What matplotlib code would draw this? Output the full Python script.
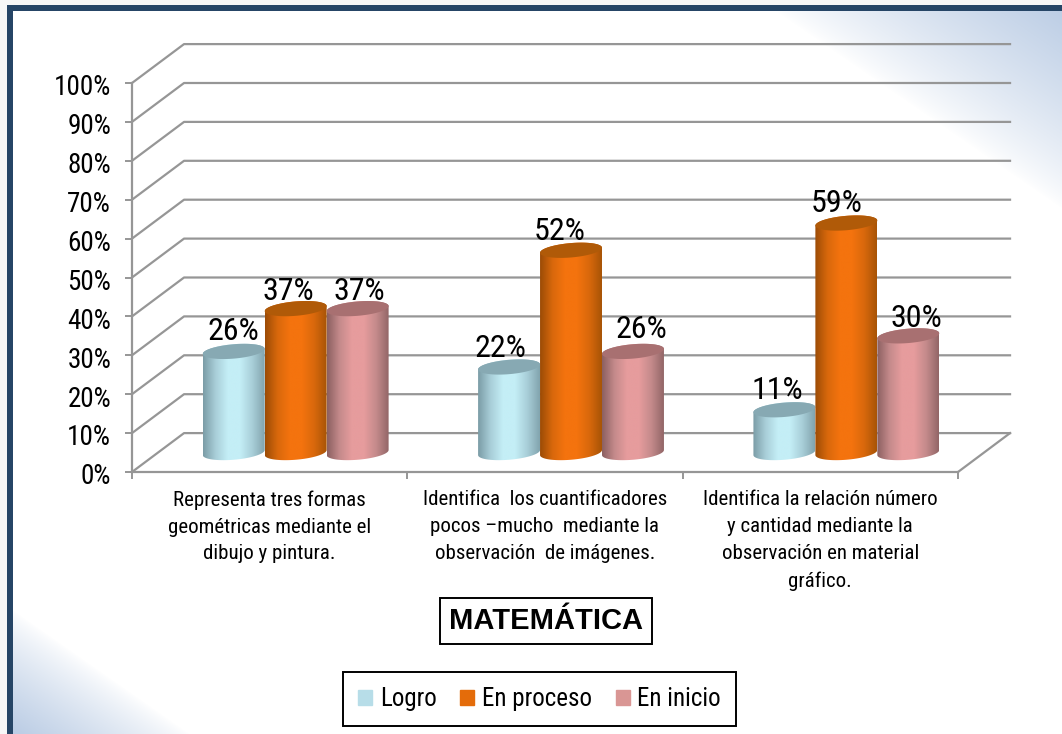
# -*- coding: utf-8 -*-
import numpy as np
import matplotlib
matplotlib.use("Agg")
import matplotlib.pyplot as plt
from matplotlib.colors import LinearSegmentedColormap
from matplotlib.patches import Patch, PathPatch, Rectangle
from matplotlib.path import Path
from matplotlib.transforms import ScaledTranslation

plt.rcParams["font.family"] = ["Roboto Condensed", "Liberation Sans"]

categories = [
    "Representa tres formas\ngeométricas mediante el\ndibujo y pintura.",
    "Identifica  los cuantificadores\npocos –mucho  mediante la\nobservación  de imágenes.",
    "Identifica la relación número\ny cantidad mediante la\nobservación en material\ngráfico.",
]
series = ["Logro", "En proceso", "En inicio"]
logro = [26, 22, 11]
en_proceso = [37, 52, 59]
en_inicio = [37, 26, 30]

legend_colors = ["#b7dde8", "#e46c0a", "#d99694"]
side_colors = [
    ["#7b9ca6", "#a8ced8", "#c4eef6", "#c4eef6", "#a8ced8", "#82a4ae"],
    ["#9c4c06", "#d8680c", "#f4730e", "#f4730e", "#d8680c", "#a85406"],
    ["#8c6061", "#c48a8b", "#e69c9d", "#e69c9d", "#c48a8b", "#926667"],
]
top_colors = ["#87a9b3", "#b05a08", "#a87071"]
grid_color = "#969696"

# label offsets from the bar top, in points
label_dx = [[0, -5, 1], [-6, -8, 6], [-5, -7, 6]]
label_dy = [[4, 2, 2], [3, 3, 5.5], [3.5, 3.5, 2]]

depth_x = 0.189
depth_y = 10.0
bar_w = 0.225


def background(fig):
    bg = fig.add_axes([0, 0, 1, 1], zorder=-5)
    h, w = 734, 1062
    yy, xx = np.mgrid[0:h, 0:w]
    top_right = np.clip(((xx - 760) - yy * 1.45) / 302, 0, 1)
    bottom_left = np.clip((yy - 610) / 124 - (xx - 13) / 177, 0, 1)
    a = np.maximum(top_right, bottom_left) ** 0.8
    tint = np.array([0.73, 0.80, 0.895])
    rgb = 1 - a[..., None] * (1 - tint)
    rgb[yy < 5] = 0.97
    rgb[xx < 7] = 0.97
    bg.imshow(rgb, aspect="auto", extent=(0, w, h, 0))
    bg.add_patch(Rectangle((7, 5), w - 7, 6, color="#264566", lw=0))
    bg.add_patch(Rectangle((7, 5), 6, h - 5, color="#264566", lw=0))
    bg.set_xlim(0, w)
    bg.set_ylim(h, 0)
    bg.axis("off")


def cylinder(ax, x0, value, idx, z):
    t = np.linspace(0, 2 * np.pi, 100)
    a = bar_w / 2
    b, k = 1.85, 0.65
    ex = a * np.cos(t)
    ey = b * np.sin(t) + k * np.cos(t)
    base_y = depth_y / 2
    # side shape: lower half of base ellipse + upper rim
    low = np.linspace(np.pi, 2 * np.pi, 50)
    up = np.linspace(0, np.pi, 50)
    sx = np.r_[x0 + a * np.cos(low), x0 + a * np.cos(up)]
    sy = np.r_[base_y + b * np.sin(low) + k * np.cos(low),
               base_y + value + b * np.sin(up) + k * np.cos(up)]
    shape = PathPatch(Path(np.c_[sx, sy]), transform=ax.transData, fc="none", ec="none")
    ax.add_patch(shape)
    cmap = LinearSegmentedColormap.from_list("c", side_colors[idx])
    grad = np.linspace(0, 1, 128)[None, :]
    im = ax.imshow(grad, cmap=cmap, aspect="auto", zorder=z, interpolation="bilinear",
                   extent=(x0 - a, x0 + a, base_y - 5, base_y + value + 5))
    im.set_clip_path(shape)
    ax.fill(x0 + ex, base_y + value + ey, color=top_colors[idx], lw=0, zorder=z + 0.1,
            clip_on=False)


fig = plt.figure(figsize=(10.62, 7.34), dpi=100)
background(fig)

ax = fig.add_axes([132 / 1062, (734 - 472) / 734, 826 / 1062, 389 / 734])
ax.patch.set_alpha(0)
for name in ["top", "right"]:
    ax.spines[name].set_visible(False)
for name in ["left", "bottom"]:
    ax.spines[name].set_color(grid_color)
    ax.spines[name].set_linewidth(1.6)

# walls and grid lines
for y in range(0, 101, 10):
    ax.plot([0, depth_x, 3 + depth_x], [y, y + depth_y, y + depth_y],
            color=grid_color, lw=1.6, clip_on=False, zorder=1)
ax.plot([3, 3 + depth_x], [0, depth_y], color=grid_color, lw=1.6, clip_on=False, zorder=1)

values = [logro, en_proceso, en_inicio]
for i in range(3):
    for j in range(3):
        xc = j + 0.5 + (i - 1) * bar_w + depth_x / 2
        cylinder(ax, xc, values[i][j], i, 3 + i + j * 3)
        ax.annotate("%d%%" % values[i][j], (xc, values[i][j] + depth_y / 2),
                    xytext=(label_dx[j][i], label_dy[j][i]), textcoords="offset points",
                    ha="center", va="bottom", fontsize=23, color="black", zorder=20,
                    annotation_clip=False)

ax.set_xlim(0, 3)
ax.set_ylim(0, 100)
ax.set_yticks(range(0, 101, 10))
ax.set_yticklabels(["%d%%" % v for v in range(0, 101, 10)], fontsize=19.5, va="center")
ax.set_xticks([0, 1, 2, 3])
ax.set_xticklabels([])
ax.set_xticks([0.5, 1.5, 2.5], minor=True)
ax.set_xticklabels(categories, minor=True, fontsize=15, linespacing=1.53, va="top")
ax.tick_params(axis="y", length=5, width=1.4, color=grid_color, pad=10)
ax.tick_params(axis="x", which="major", length=5, width=1.4, color=grid_color)
ax.tick_params(axis="x", which="minor", length=0, pad=13)
shift = ScaledTranslation(0, -3.5 / 72, fig.dpi_scale_trans)
for lab in ax.get_yticklabels():
    lab.set_transform(lab.get_transform() + shift)

fig.text(546 / 1062, 1 - 621 / 734, "MATEMÁTICA", family="Liberation Sans", fontweight="bold",
         fontsize=21, ha="center", va="center",
         bbox=dict(boxstyle="square,pad=0.3", fc="white", ec="black", lw=1.4))

handles = [Patch(color=c, label=s) for c, s in zip(legend_colors, series)]
leg = fig.legend(handles=handles, ncol=3, loc="center", bbox_to_anchor=(539.5 / 1062, 1 - 699 / 734),
                 fontsize=18, frameon=True, fancybox=False, edgecolor="black", framealpha=1,
                 handlelength=0.56, handleheight=0.56, handletextpad=0.3, columnspacing=0.95,
                 borderpad=0.6)
leg.get_frame().set_linewidth(1.4)

fig.savefig("out.png", dpi=100)
